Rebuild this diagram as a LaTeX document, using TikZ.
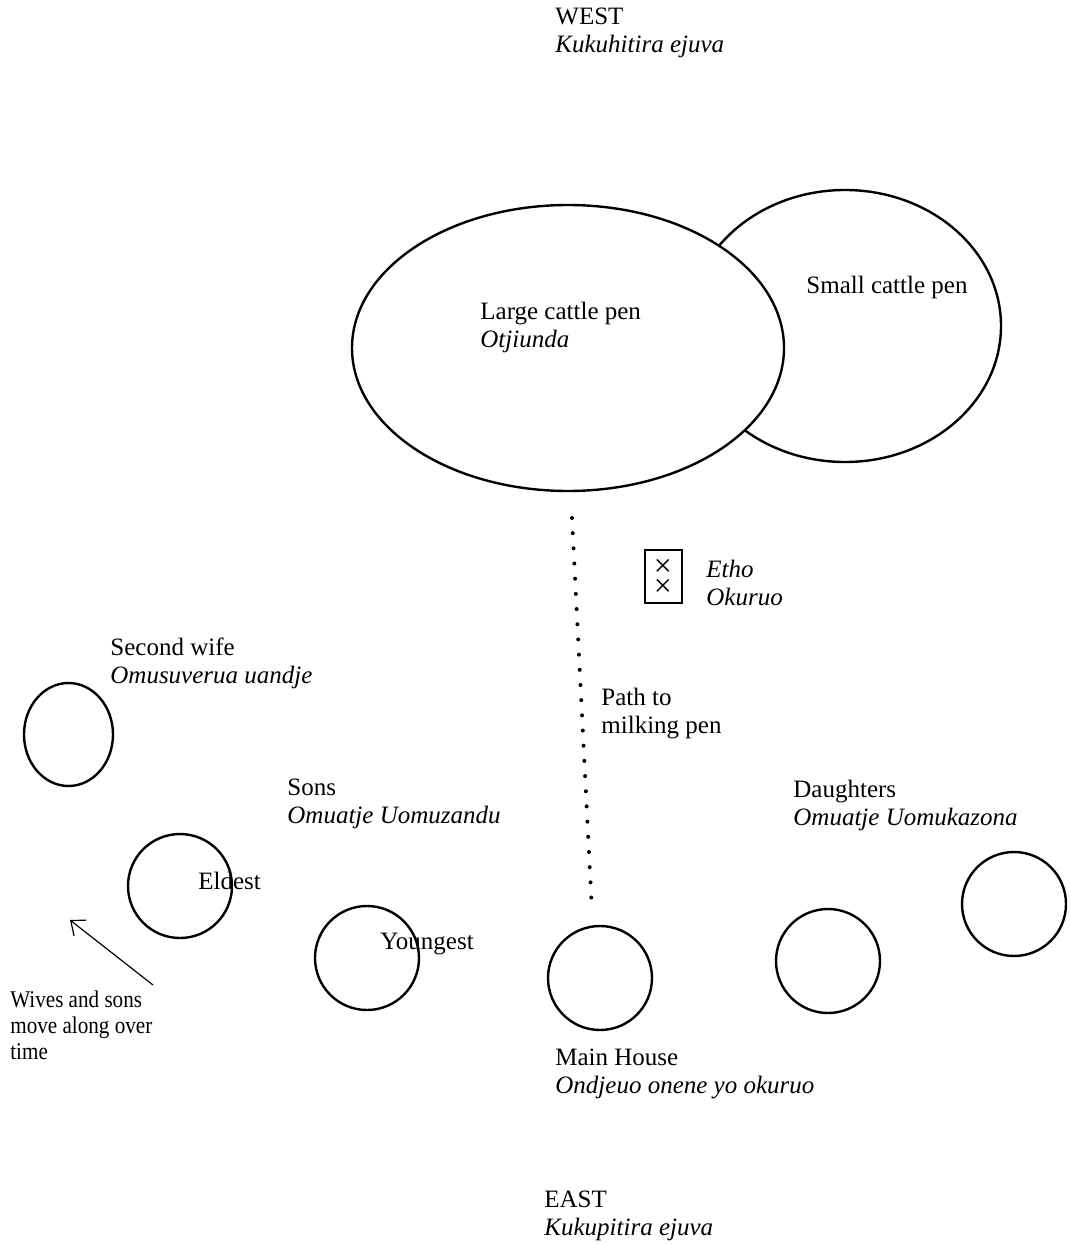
\documentclass[tikz,border=0pt]{standalone}
\usepackage{fontspec}
\setmainfont{Liberation Serif}
\usetikzlibrary{shapes.geometric,arrows.meta}
\begin{document}
\begin{tikzpicture}[x=0.5pt,y=-0.5pt,
  lbl/.style={anchor=base west,align=left,inner sep=0pt,font=\fontsize{12.5}{14}\selectfont},
  hut/.style={draw,circle,line width=1.2pt,minimum size=52pt,inner sep=0pt},
  pen/.style={draw,ellipse,line width=1.2pt,inner sep=0pt},
  cross/.style={font=\fontsize{16}{16}\selectfont,inner sep=0pt},
  dotpath/.style={line width=2pt,line cap=round,dash pattern=on 0pt off 7.6pt}]
\useasboundingbox (0,0) rectangle (1069,1245);
% cattle pens
\node[pen,minimum width=156pt,minimum height=136pt] (small) at (845,326) {};
\node[pen,fill=white,minimum width=216pt,minimum height=143pt] (large) at (568,348) {};
\node[lbl] (largetxt) at (480,348) {Large cattle pen\\\itshape Otjiunda};
\node[lbl] (smalltxt) at (806,294) {Small cattle pen};
% compass
\node[lbl] (west) at (555,53) {WEST\\\itshape Kukuhitira ejuva};
\node[lbl] (east) at (544,1235) {EAST\\\itshape Kukupitira ejuva};
% etho
\node[draw,line width=0.9pt,minimum width=18.5pt,minimum height=26.5pt,inner sep=0pt] (etho) at (663.5,576.5) {};
\node[cross] (x1) at (663,568) {\texttimes};
\node[cross] (x2) at (663,588) {\texttimes};
\node[lbl] (ethotxt) at (706,605) {\itshape Etho\\\itshape Okuruo};
% path
\coordinate (pathtop) at (572,518);
\coordinate (pathbot) at (592,912);
\draw[dotpath] (pathtop) -- (pathbot);
\node[lbl] (pathtxt) at (601,733) {Path to\\milking pen};
% second wife
\node[pen,minimum width=44.5pt,minimum height=51.5pt] (wife2) at (68.5,734.5) {};
\node[lbl] (wife2txt) at (110,683) {Second wife\\\itshape Omusuverua uandje};
% sons
\node[lbl] (sonstxt) at (287,823) {Sons\\\itshape Omuatje Uomuzandu};
\node[hut] (eldest) at (180,886) {};
\node[lbl] (eldesttxt) at (198,889) {Eldest};
\node[hut] (youngest) at (367,958) {};
\node[lbl] (youngesttxt) at (380,949) {Youngest};
% main house
\node[hut] (main) at (600,978) {};
\node[lbl] (maintxt) at (555,1093) {Main House\\\itshape Ondjeuo onene yo okuruo};
% daughters
\node[lbl] (daughterstxt) at (793,825) {Daughters\\\itshape Omuatje Uomukazona};
\node[hut] (d1) at (828,961) {};
\node[hut] (d2) at (1014,904) {};
% arrow
\coordinate (arrstart) at (153,985);
\coordinate (arrend) at (70,920);
\draw[line width=0.6pt,-{Straight Barb[length=6pt,width=10pt,line width=0.6pt]}] (arrstart) -- (arrend);
\node[anchor=base west,align=left,inner sep=0pt,font=\fontsize{12}{13}\selectfont,xscale=0.88] (movetxt) at (10,1059) {Wives and sons\\move along over\\time};
\end{tikzpicture}
\end{document}
